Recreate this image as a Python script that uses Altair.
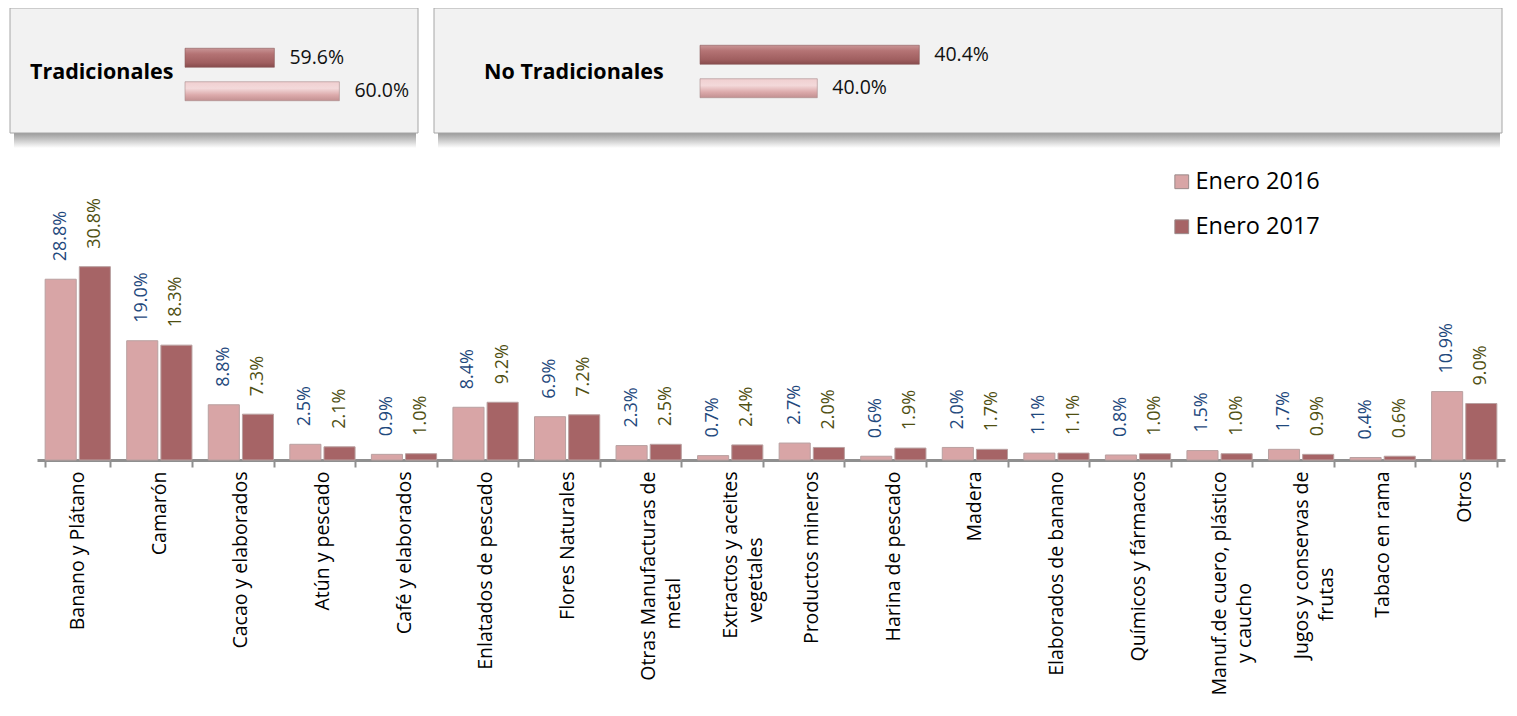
import altair as alt
import pandas as pd

# ---------------- data ----------------
categories = [
    "Banano y Plátano", "Camarón", "Cacao y elaborados", "Atún y pescado",
    "Café y elaborados", "Enlatados de pescado", "Flores Naturales",
    "Otras Manufacturas de\nmetal", "Extractos y aceites\nvegetales",
    "Productos mineros", "Harina de pescado", "Madera", "Elaborados de banano",
    "Químicos y fármacos", "Manuf.de cuero, plástico\ny caucho",
    "Jugos y conservas de\nfrutas", "Tabaco en rama", "Otros",
]
v2016 = [28.8, 19.0, 8.8, 2.5, 0.9, 8.4, 6.9, 2.3, 0.7, 2.7, 0.6, 2.0, 1.1, 0.8, 1.5, 1.7, 0.4, 10.9]
v2017 = [30.8, 18.3, 7.3, 2.1, 1.0, 9.2, 7.2, 2.5, 2.4, 2.0, 1.9, 1.7, 1.1, 1.0, 1.0, 0.9, 0.6, 9.0]
series = ["Enero 2016", "Enero 2017"]

trad_values = [60.0, 59.6]      # Enero 2016, Enero 2017
notrad_values = [40.0, 40.4]    # Enero 2016, Enero 2017

LIGHT = "#d8a5a6"
DARK = "#a66466"
LBL16 = "#1f497d"
LBL17 = "#4f4f12"
FONT = "Open Sans"
AXIS_FS = 19.5

# second lines of wrapped labels sit further down, as in the original
second_line_shift = {"metal": 21, "vegetales": 13, "y caucho": 22, "frutas": 19}


def display(c):
    if "\n" not in c:
        return c
    a, b = c.split("\n")
    return a + "\n" + b + "\u00a0" * second_line_shift.get(b, 0) + "\u200b"


cats_disp = [display(c) for c in categories]

rows = []
for c, a, b in zip(cats_disp, v2016, v2017):
    rows.append({"cat": c, "serie": series[0], "valor": a, "txt": f"{a:.1f}%"})
    rows.append({"cat": c, "serie": series[1], "valor": b, "txt": f"{b:.1f}%"})
df = pd.DataFrame(rows)

# ---------------- main chart ----------------
MAIN_W = 1495
x_enc = alt.X(
    "cat:N", sort=cats_disp,
    scale=alt.Scale(paddingInner=0.2, paddingOuter=0.1, range=[27, MAIN_W]),
    axis=alt.Axis(
        title=None, labelAngle=-90, labelFont=FONT, labelFontSize=AXIS_FS,
        labelColor="#000000", labelPadding=4, labelLimit=400,
        labelExpr="split(datum.label, '\\n')", labelLineHeight=25,
        domainColor="#8f8f8f", domainWidth=3, tickColor="#8f8f8f",
        tickWidth=2, tickSize=7, tickBand="extent", grid=False,
    ),
)
xo_enc = alt.XOffset("serie:N", sort=series, scale=alt.Scale(paddingInner=0.09))
y_enc = alt.Y("valor:Q", scale=alt.Scale(domain=[0, 47], nice=False), axis=None)

bars = alt.Chart(df).mark_bar(stroke="#b9a0a0", strokeWidth=1).encode(
    x=x_enc, xOffset=xo_enc, y=y_enc,
    color=alt.Color(
        "serie:N", sort=series,
        scale=alt.Scale(domain=series, range=[LIGHT, DARK]),
        legend=alt.Legend(
            title=None, orient="none", legendX=1160, legendY=162,
            symbolType="square", symbolSize=190, symbolStrokeColor="#9a8a8a",
            symbolStrokeWidth=1, labelFont=FONT, labelFontSize=23.5,
            labelColor="#000000", rowPadding=20, padding=0, labelOffset=2,
        ),
    ),
)

lab16 = alt.Chart(df).transform_filter(alt.datum.serie == series[0]).mark_text(
    angle=270, align="left", baseline="middle", dx=18, font=FONT,
    fontSize=18, color=LBL16,
).encode(x=x_enc, xOffset=xo_enc, y=y_enc, text="txt:N")

lab17 = alt.Chart(df).transform_filter(alt.datum.serie == series[1]).mark_text(
    angle=270, align="left", baseline="middle", dx=18, font=FONT,
    fontSize=18, color=LBL17,
).encode(x=x_enc, xOffset=xo_enc, y=y_enc, text="txt:N")

main = alt.layer(bars, lab16, lab17).properties(
    width=MAIN_W, height=295,
    view=alt.ViewBackground(stroke="transparent"),
)

# ---------------- top boxes ----------------
def grad(colors):
    return alt.Gradient(
        gradient="linear", x1=0, x2=0, y1=0, y2=1,
        stops=[alt.GradientStop(offset=o, color=c) for o, c in colors],
    )

g_dark = grad([(0, "#c99596"), (0.3, "#b47374"), (0.75, "#a05f60"), (1, "#874b4c")])
g_light = grad([(0, "#f0cfd0"), (0.35, "#f3d9da"), (0.7, "#dcaaab"), (1, "#c29091")])
g_shadow = grad([(0, "#8f8f8f"), (0.35, "#b4b4b4"), (1, "#ffffff")])

BOX_H = 125
SHADOW_H = 15
one = pd.DataFrame({"k": [0]})


def box(title, vals, dmin, rng, width, title_x, yrange):
    d = pd.DataFrame({
        "serie": series,
        "valor": vals,
        "txt": [f"{v:.1f}%" for v in vals],
    })
    xs = alt.Scale(domain=[dmin, dmin + 1.0], range=rng, zero=False, nice=False)
    ys = alt.Scale(domain=["Enero 2017", "Enero 2016"], range=yrange,
                   paddingInner=0.433, paddingOuter=0.217)
    x = alt.X("valor:Q", scale=xs, axis=None)
    y = alt.Y("serie:N", scale=ys, axis=None)
    shadow = alt.Chart(one).mark_rect(fill=g_shadow).encode(
        x=alt.value(4), x2=alt.value(width - 2),
        y=alt.value(BOX_H - 2), y2=alt.value(BOX_H + SHADOW_H),
    )
    panel = alt.Chart(one).mark_rect(fill="#f2f2f2", stroke="#a6a6a6", strokeWidth=1).encode(
        x=alt.value(0), x2=alt.value(width), y=alt.value(0), y2=alt.value(BOX_H),
    )
    b17 = alt.Chart(d).transform_filter(alt.datum.serie == "Enero 2017").mark_bar(
        fill=g_dark, stroke="#8a5a5b", strokeWidth=0.6
    ).encode(x=x, x2=alt.datum(dmin), y=y)
    b16 = alt.Chart(d).transform_filter(alt.datum.serie == "Enero 2016").mark_bar(
        fill=g_light, stroke="#a88a8b", strokeWidth=0.6
    ).encode(x=x, x2=alt.datum(dmin), y=y)
    t = alt.Chart(d).mark_text(
        align="left", baseline="middle", dx=15, font=FONT, fontSize=19.5, color="#111111"
    ).encode(x=x, y=y, text="txt:N")
    ttl = alt.Chart(pd.DataFrame({"t": [title]})).mark_text(
        align="left", baseline="middle", font=FONT, fontSize=21.5,
        fontWeight="bold", color="#000000",
    ).encode(text="t:N", x=alt.value(title_x), y=alt.value(65))
    return alt.layer(shadow, panel, b17, b16, t, ttl).properties(
        width=width, height=BOX_H + SHADOW_H,
        view=alt.ViewBackground(stroke="transparent"),
    )


box1 = box("Tradicionales", trad_values, 59.05, [175, 337.5], 408, 20, [33, 100])
box2 = box("No Tradicionales", notrad_values, 39.54, [266, 521], 1068, 50, [30, 97])

top = alt.hconcat(box1, box2, spacing=14)

chart = alt.vconcat(top, main, spacing=30 - SHADOW_H).properties(
    padding={"left": -9, "top": -1, "right": 0, "bottom": 0},
    background="#ffffff",
)

chart.save("out.html", embed_options={"renderer": "svg", "actions": False})
